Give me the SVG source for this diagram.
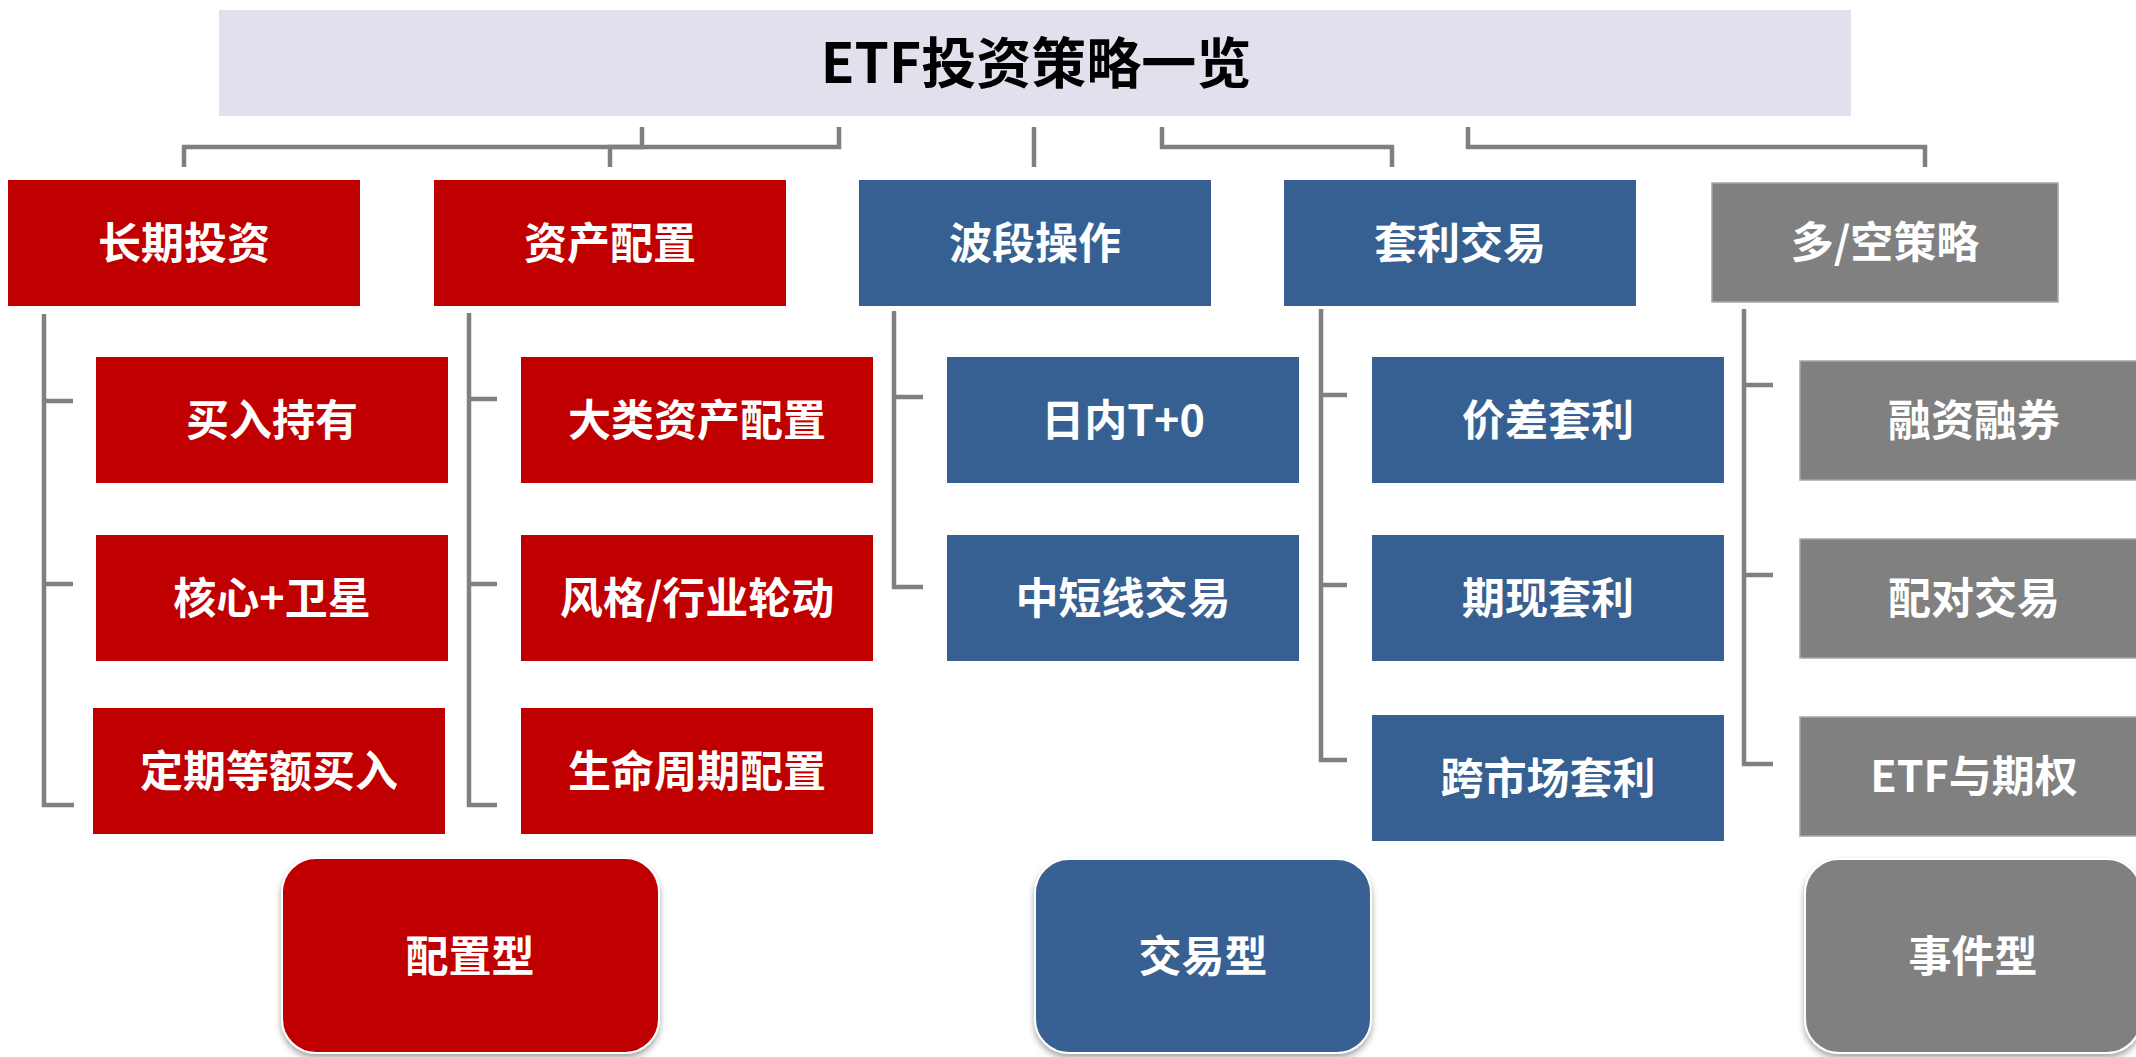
<svg xmlns="http://www.w3.org/2000/svg" width="2136" height="1057" viewBox="0 0 2136 1057">
<style>
  .red{fill:#C00000}
  .blue{fill:#376092}
  .grey{fill:#808080;stroke:#A6A6A6;stroke-width:1.5}
  .t{font-family:"Noto Sans CJK SC","Liberation Sans",sans-serif;font-weight:bold;fill:#FFFFFF;font-size:43px;text-anchor:middle}
  .title{font-family:"Noto Sans CJK SC","Liberation Sans",sans-serif;font-weight:bold;fill:#000000;font-size:55px;text-anchor:middle}
  .conn{fill:none;stroke:#808080;stroke-width:4.5}
  .pill{stroke:#FFFFFF;stroke-width:2}
</style>
<defs>
  <filter id="sh" x="-10%" y="-10%" width="120%" height="120%">
    <feDropShadow dx="0" dy="4" stdDeviation="3" flood-color="#000000" flood-opacity="0.35"/>
  </filter>
</defs>
<rect width="2136" height="1057" fill="#FFFFFF"/>

<g id="connectors">
  <path class="conn" d="M642,127 V147 H184 V167"/>
  <path class="conn" d="M839,127 V147 H610 V167"/>
  <path class="conn" d="M1034,127 V167"/>
  <path class="conn" d="M1162,127 V147 H1392 V167"/>
  <path class="conn" d="M1468,127 V147 H1925 V167"/>
  <path class="conn" d="M44,314 V805 H74 M44,401 H73 M44,584 H73"/>
  <path class="conn" d="M469,313 V805 H497 M469,399 H497 M469,584 H497"/>
  <path class="conn" d="M894,311 V587 H923 M894,397 H923"/>
  <path class="conn" d="M1321,309 V760 H1347 M1321,395 H1347 M1321,585 H1347"/>
  <path class="conn" d="M1744,309 V764 H1773 M1744,385 H1773 M1744,575 H1773"/>
</g>

<g id="title">
  <rect x="219" y="10" width="1632" height="106" fill="#E4DFEC"/>
  <text class="title" x="1036" y="83">ETF投资策略一览</text>
</g>

<g id="n-changqi"><rect class="red" x="8" y="180" width="352" height="126"/><text class="t" x="184" y="259">长期投资</text></g>
<g id="n-zichan"><rect class="red" x="434" y="180" width="352" height="126"/><text class="t" x="610" y="259">资产配置</text></g>
<g id="n-boduan"><rect class="blue" x="859" y="180" width="352" height="126"/><text class="t" x="1035" y="259">波段操作</text></g>
<g id="n-taoli"><rect class="blue" x="1284" y="180" width="352" height="126"/><text class="t" x="1460" y="259">套利交易</text></g>
<g id="n-duokong"><rect class="grey" x="1712" y="183" width="346" height="119"/><text class="t" x="1885" y="258">多/空策略</text></g>

<g id="n-mairu"><rect class="red" x="96" y="357" width="352" height="126"/><text class="t" x="272" y="436">买入持有</text></g>
<g id="n-hexin"><rect class="red" x="96" y="535" width="352" height="126"/><text class="t" x="272" y="614">核心+卫星</text></g>
<g id="n-dingqi"><rect class="red" x="93" y="708" width="352" height="126"/><text class="t" x="269" y="787">定期等额买入</text></g>

<g id="n-dalei"><rect class="red" x="521" y="357" width="352" height="126"/><text class="t" x="697" y="436">大类资产配置</text></g>
<g id="n-fengge"><rect class="red" x="521" y="535" width="352" height="126"/><text class="t" x="697" y="614">风格/行业轮动</text></g>
<g id="n-shengming"><rect class="red" x="521" y="708" width="352" height="126"/><text class="t" x="697" y="787">生命周期配置</text></g>

<g id="n-rinei"><rect class="blue" x="947" y="357" width="352" height="126"/><text class="t" x="1123" y="436">日内T+0</text></g>
<g id="n-zhongduan"><rect class="blue" x="947" y="535" width="352" height="126"/><text class="t" x="1123" y="614">中短线交易</text></g>

<g id="n-jiacha"><rect class="blue" x="1372" y="357" width="352" height="126"/><text class="t" x="1548" y="436">价差套利</text></g>
<g id="n-qixian"><rect class="blue" x="1372" y="535" width="352" height="126"/><text class="t" x="1548" y="614">期现套利</text></g>
<g id="n-kuashichang"><rect class="blue" x="1372" y="715" width="352" height="126"/><text class="t" x="1548" y="794">跨市场套利</text></g>

<g id="n-rongzi"><rect class="grey" x="1800" y="361" width="352" height="119"/><text class="t" x="1974" y="436">融资融券</text></g>
<g id="n-peidui"><rect class="grey" x="1800" y="539" width="352" height="119"/><text class="t" x="1974" y="614">配对交易</text></g>
<g id="n-etfqq"><rect class="grey" x="1800" y="717" width="352" height="119"/><text class="t" x="1974" y="792">ETF与期权</text></g>

<g id="n-peizhixing"><rect class="red pill" filter="url(#sh)" x="282" y="858" width="377" height="195" rx="34" ry="34"/><text class="t" x="470" y="972">配置型</text></g>
<g id="n-jiaoyixing"><rect class="blue pill" filter="url(#sh)" x="1035" y="859" width="336" height="194" rx="34" ry="34"/><text class="t" x="1203" y="972">交易型</text></g>
<g id="n-shijianxing"><rect class="pill" fill="#808080" filter="url(#sh)" x="1805" y="859" width="336" height="194" rx="34" ry="34"/><text class="t" x="1973" y="972">事件型</text></g>
</svg>
